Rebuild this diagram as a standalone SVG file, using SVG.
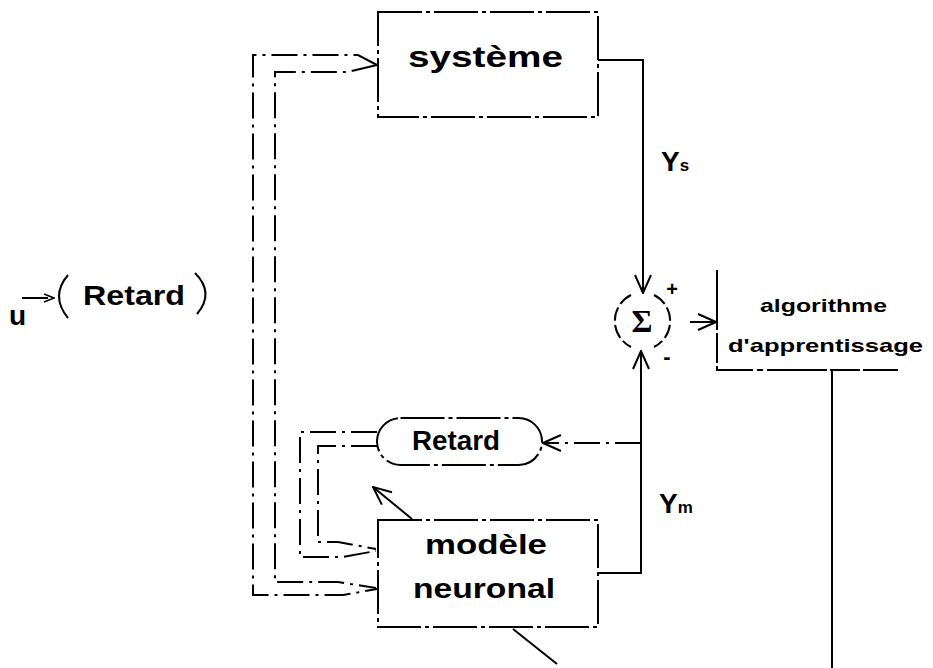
<svg xmlns="http://www.w3.org/2000/svg" width="933" height="668" viewBox="0 0 933 668">
<style>
.t{font-family:"Liberation Sans",Arial,sans-serif;font-weight:bold;fill:#000}
.box{fill:none;stroke:#000;stroke-width:2}
.dash{stroke-dasharray:44 4 4 4}
.ln{fill:none;stroke:#000;stroke-width:2}
.dl{fill:none;stroke:#000;stroke-width:2;stroke-dasharray:26 6 3 6}
</style>
<defs>
<marker id="ah" viewBox="0 0 20 20" refX="19" refY="10" markerWidth="20" markerHeight="20" markerUnits="userSpaceOnUse" orient="auto">
<path d="M1,2 L19,10 L1,18" fill="none" stroke="#000" stroke-width="2"/>
</marker>
<marker id="ahs" viewBox="0 0 12 12" refX="11" refY="6" markerWidth="12" markerHeight="12" markerUnits="userSpaceOnUse" orient="auto">
<path d="M1,2 L11,6 L1,10" fill="none" stroke="#000" stroke-width="1.5"/>
</marker>
</defs>

<g id="connectors">
<path class="dl" d="M22,298 H54" marker-end="url(#ahs)" stroke-dasharray="3 3"/>
<path class="ln" d="M598,60 H643 V293" marker-end="url(#ah)"/>
<path class="dl" d="M690,322 H716" marker-end="url(#ah)"/>
<path class="ln" d="M832,371 V668"/>
<path class="ln" d="M598,573 H641 V351" marker-end="url(#ah)"/>
<path class="dl" d="M641,443 H543" marker-end="url(#ah)"/>
<path class="dl" d="M377,432 H300 V557 H342 L376,551"/>
<path class="dl" d="M377,446 H318 V542 H338 L376,549"/>
<path class="dl" d="M377,65 L358,55 H253 V595 H343 L377,589"/>
<path class="dl" d="M377,65 L347,72 H275 V582 H338 L376,588"/>
<path class="ln" d="M412,519 L373,487" marker-end="url(#ah)"/>
<path class="ln" d="M513,629 L557,664"/>
</g>

<g id="u">
<text class="t" x="9" y="325" font-size="28">u</text>
</g>

<g id="retard-entree">
<path class="ln" d="M68,275 Q50,296 68,318"/>
<path class="ln" d="M195,273 Q215,293 197,314"/>
<text class="t" x="83" y="305" font-size="28" textLength="102" lengthAdjust="spacingAndGlyphs">Retard</text>
</g>

<g id="systeme">
<rect class="box dash" x="378" y="12" width="220" height="105"/>
<text class="t" x="408" y="67" font-size="30" textLength="155" lengthAdjust="spacingAndGlyphs">système</text>
</g>

<g id="ys">
<text class="t" x="661" y="171" font-size="28">Y<tspan font-size="17">s</tspan></text>
</g>

<g id="sigma">
<path class="ln" d="M631,295 A29,29 0 0 0 631,347" stroke-dasharray="14 4"/>
<path class="ln" d="M654,295 A29,29 0 0 1 654,347" stroke-dasharray="14 4"/>
<text x="642" y="332" font-size="32" font-weight="bold" font-family="Liberation Serif,serif" text-anchor="middle">Σ</text>
<text class="t" x="672" y="296" font-size="20" text-anchor="middle">+</text>
<text class="t" x="667" y="364" font-size="22" text-anchor="middle">-</text>
</g>

<g id="algorithme">
<path class="ln" d="M717,270 V370 H898" stroke-dasharray="60 3 30 3 40 4 6 4"/>
<text class="t" x="760" y="312" font-size="19" textLength="127" lengthAdjust="spacingAndGlyphs">algorithme</text>
<text class="t" x="728" y="352" font-size="19" textLength="195" lengthAdjust="spacingAndGlyphs">d'apprentissage</text>
</g>

<g id="retard-boucle">
<rect class="box dash" x="377" y="418" width="165" height="47" rx="23.5"/>
<text class="t" x="412" y="450" font-size="27" textLength="88" lengthAdjust="spacingAndGlyphs">Retard</text>
</g>

<g id="ym">
<text class="t" x="659" y="513" font-size="28">Y<tspan font-size="17">m</tspan></text>
</g>

<g id="modele">
<rect class="box dash" x="378" y="520" width="220" height="107"/>
<text class="t" x="425" y="554" font-size="28" textLength="122" lengthAdjust="spacingAndGlyphs">modèle</text>
<text class="t" x="413" y="598" font-size="28" textLength="142" lengthAdjust="spacingAndGlyphs">neuronal</text>
</g>
</svg>
